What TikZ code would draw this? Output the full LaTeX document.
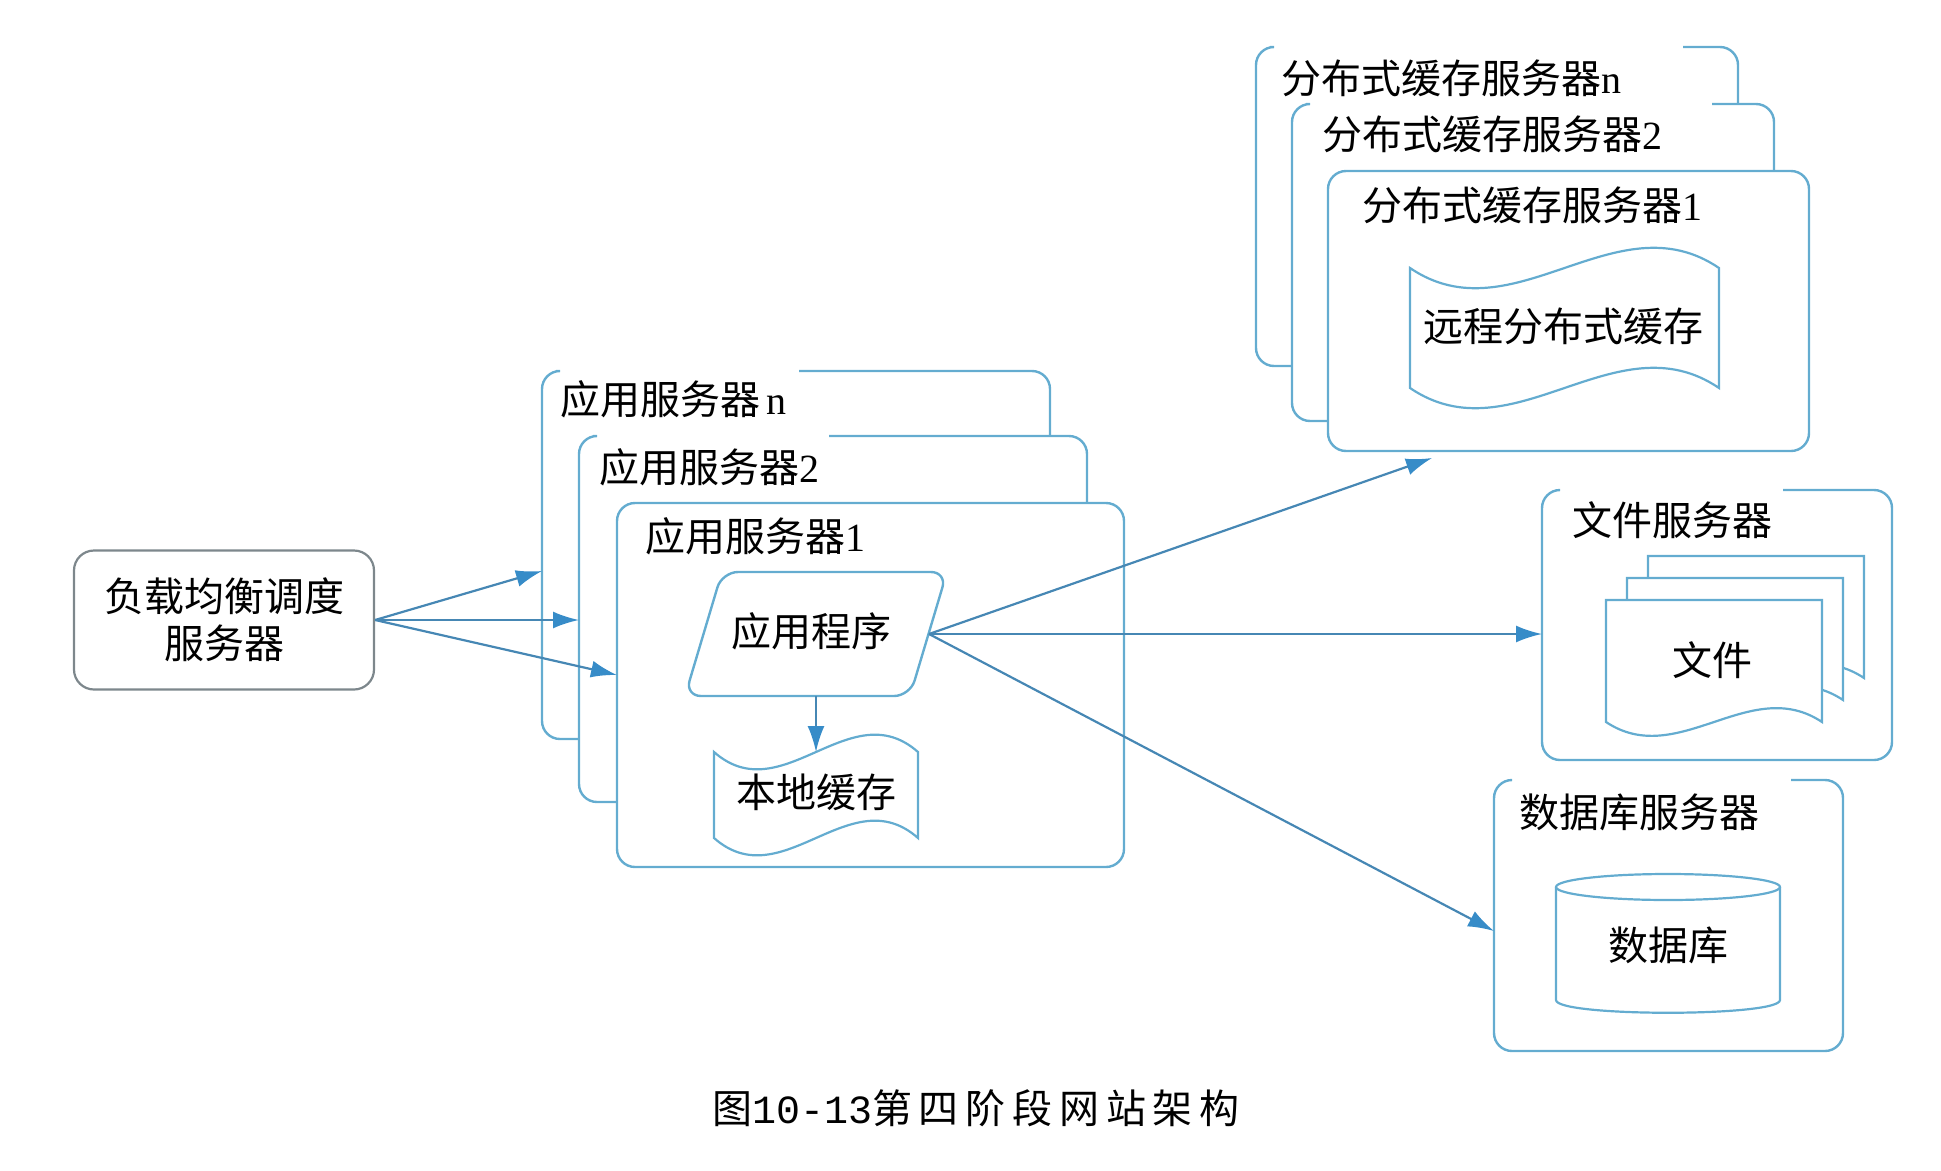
\documentclass[tikz,border=0pt]{standalone}
\usepackage{fontspec}
\setmainfont{Noto Sans CJK SC}
\newfontfamily\lat{Liberation Serif}
\newfontfamily\capcjk[LetterSpace=17]{Noto Sans CJK SC}
\newfontfamily\capmono{Liberation Mono}
\usetikzlibrary{arrows.meta}
\definecolor{framec}{RGB}{100,172,208}
\definecolor{arrc}{RGB}{70,135,180}
\definecolor{headc}{RGB}{55,140,200}
\definecolor{lbc}{RGB}{125,135,140}
\tikzset{
  frame/.style={draw=framec, line width=2.4pt, rounded corners=18},
  shp/.style={draw=framec, line width=2.2pt},
  arr/.style={draw=arrc, line width=2.2pt, -{Latex[length=26pt,width=17pt,fill=headc,color=headc]}},
  txt/.style={font=\fontsize{40}{47}\selectfont, inner sep=0pt, align=center},
  lbl/.style={txt, anchor=west},
  lbbox/.style={txt, draw=lbc, line width=2.2pt, rounded corners=20, minimum width=300pt, minimum height=139pt}
}
\begin{document}
\begin{tikzpicture}[x=1pt,y=-1pt]
\useasboundingbox (0,0) rectangle (1941,1170);

% load balancer
\node[lbbox] (lb) at (224,620) {负载均衡调度\\服务器};

% application servers
\draw[frame] (799,371) -- (1050,371) -- (1050,436);
\draw[frame] (556,371) -- (542,371) -- (542,739) -- (579,739);
\node[lbl] (asn) at (560,399) {应用服务器{\lat\,n}};
\draw[frame] (829,436) -- (1087,436) -- (1087,503);
\draw[frame] (593,436) -- (579,436) -- (579,802) -- (617,802);
\node[lbl] (as2) at (599,467) {应用服务器{\lat 2}};
\node[frame, minimum width=507pt, minimum height=364pt] (as1) at (870.5,685) {};
\node[lbl] (as1t) at (645,536) {应用服务器{\lat 1}};
\coordinate (asnIn) at (542,571);
\coordinate (as2In) at (579,620);
\coordinate (as1In) at (617,675);

% application program
\draw[frame, rounded corners=16] (834,572) -- (947,572) -- (910,696) -- (685,696) -- (722,572) -- cycle;
\node[txt] (app) at (811,631) {应用程序};
\coordinate (appR) at (929,634);
\coordinate (appB) at (816,696);

% local cache
\draw[shp] (714,752) .. controls (782,812) and (850,692) .. (918,752) -- (918,838) .. controls (850,778) and (782,898) .. (714,838) -- cycle;
\node[txt] (lc) at (816,792) {本地缓存};
\coordinate (lcT) at (816,752);

% distributed cache servers
\draw[frame] (1683,47) -- (1738,47) -- (1738,104);
\draw[frame] (1270,47) -- (1256,47) -- (1256,366) -- (1292,366);
\node[lbl] (dcn) at (1281,78) {分布式缓存服务器{\lat n}};
\draw[frame] (1712,104) -- (1774,104) -- (1774,171);
\draw[frame] (1306,104) -- (1292,104) -- (1292,421) -- (1328,421);
\node[lbl] (dc2) at (1322,134) {分布式缓存服务器{\lat 2}};
\node[frame, minimum width=481pt, minimum height=280pt] (dc1) at (1568.5,311) {};
\node[lbl] (dc1t) at (1362,205) {分布式缓存服务器{\lat 1}};
\draw[shp] (1410,268) .. controls (1513,338) and (1616,198) .. (1719,268) -- (1719,388) .. controls (1616,318) and (1513,458) .. (1410,388) -- cycle;
\node[txt] (rc) at (1563,326) {远程分布式缓存};
\coordinate (dcIn) at (1432,458);

% file server
\draw[frame] (1783,490) -- (1892,490) -- (1892,760) -- (1542,760) -- (1542,490) -- (1558,490);
\node[lbl] (fst) at (1572,520) {文件服务器};
\draw[shp, fill=white] (1648,556) -- (1864,556) -- (1864,678) .. controls (1792,630) and (1720,726) .. (1648,678) -- cycle;
\draw[shp, fill=white] (1627,578) -- (1843,578) -- (1843,700) .. controls (1771,652) and (1699,748) .. (1627,700) -- cycle;
\draw[shp, fill=white] (1606,600) -- (1822,600) -- (1822,722) .. controls (1750,674) and (1678,770) .. (1606,722) -- cycle;
\node[txt] (file) at (1712,660) {文件};
\coordinate (fsIn) at (1542,634);

% database server
\draw[frame] (1791,780) -- (1843,780) -- (1843,1051) -- (1494,1051) -- (1494,780) -- (1510,780);
\node[lbl] (dbt) at (1519,812) {数据库服务器};
\draw[shp] (1668,887) ellipse [x radius=112, y radius=13];
\draw[shp] (1556,887) -- (1556,1000) .. controls (1556,1017) and (1780,1017) .. (1780,1000) -- (1780,887);
\node[txt] (db) at (1668,945) {数据库};
\coordinate (dbIn) at (1494,931);

% connectors
\draw[arr] (lb.east) -- (asnIn);
\draw[arr] (lb.east) -- (as2In);
\draw[arr] (lb.east) -- (as1In);
\draw[arr] (appB) -- (lcT);
\draw[arr] (appR) -- (dcIn);
\draw[arr] (appR) -- (fsIn);
\draw[arr] (appR) -- (dbIn);

% caption
\node[txt] (cap) at (976,1108) {{\capcjk 图}{\capmono 10-13}{\capcjk 第四阶段网站架构}};
\end{tikzpicture}
\end{document}
